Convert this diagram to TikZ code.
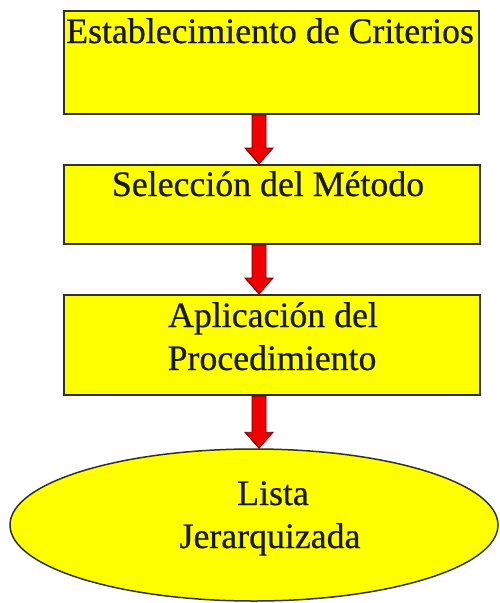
\documentclass[tikz,border=0pt]{standalone}
\usepackage{fontspec}
\setmainfont{Liberation Serif}[FakeBold=0.6]
\usetikzlibrary{calc,shapes.geometric}
\definecolor{yl}{RGB}{255,255,0}
\definecolor{rd}{RGB}{240,0,0}
\definecolor{edge}{RGB}{50,50,40}
\begin{document}
\begin{tikzpicture}[x=1pt,y=-1pt,
  boxstyle/.style={draw=edge,line width=1.8pt,fill=yl,rectangle,inner sep=0pt,anchor=north west},
  ovalstyle/.style={draw=edge,line width=1.5pt,fill=yl,ellipse,inner sep=0pt},
  lbl/.style={anchor=base,inner sep=0pt,font=\fontsize{35.8}{40}\selectfont,text=black!90},
  arrowstyle/.style={draw=black!60!red,line width=0.9pt,fill=rd,line join=miter}]
\useasboundingbox (0,0) rectangle (499,603);
\node[boxstyle,minimum width=415pt,minimum height=103pt] (b1) at (63,10) {};
\node[boxstyle,minimum width=416pt,minimum height=79pt] (b2) at (63,164) {};
\node[boxstyle,minimum width=416pt,minimum height=100pt] (b3) at (63,294) {};
\node[ovalstyle,minimum width=488pt,minimum height=152pt] (e1) at (254,525) {};
\node[lbl] (t1) at (270,43) {Establecimiento de Criterios};
\node[lbl] (t2) at (268,196) {Selección del Método};
\node[lbl] (t3a) at (273,327) {Aplicación del};
\node[lbl] (t3b) at (272,370) {Procedimiento};
\node[lbl] (t4a) at (273,505) {Lista};
\node[lbl] (t4b) at (270,548) {Jerarquizada};
% arrows
\foreach \a/\b in {b1/b2,b2/b3,b3/e1}{
  \coordinate (s) at (259,0 |- \a.south);
  \coordinate (e) at (259,0 |- \b.north);
  \draw[arrowstyle] ($(s)+(-7,0)$) -- ($(e)+(-7,-16)$) -- ($(e)+(-14,-16)$) -- (e)
     -- ($(e)+(14,-16)$) -- ($(e)+(7,-16)$) -- ($(s)+(7,0)$) -- cycle;
}
\end{tikzpicture}
\end{document}
